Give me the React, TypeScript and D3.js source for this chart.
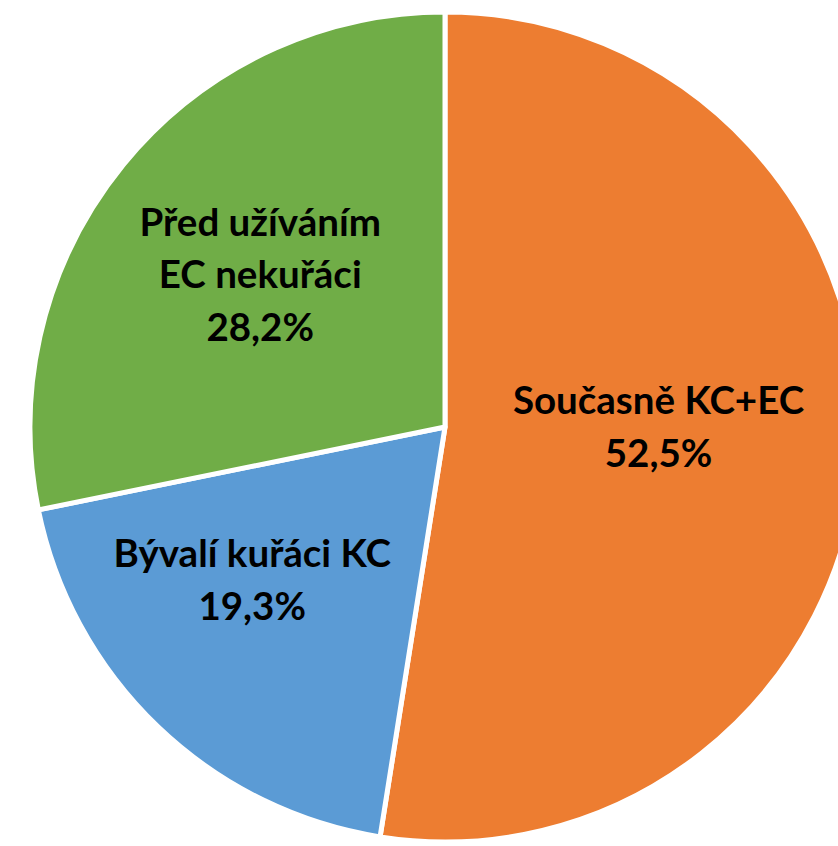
import React from "react";
import * as d3 from "d3";

const categories = ["Současně KC+EC", "Bývalí kuřáci KC", "Před užíváním EC nekuřáci"];
const values = [52.5, 19.3, 28.2];
const labelLines = [
  ["Současně KC+EC", "52,5%"],
  ["Bývalí kuřáci KC", "19,3%"],
  ["Před užíváním", "EC nekuřáci", "28,2%"],
];
const colors = ["#ED7D31", "#5B9BD5", "#70AD47"];

const W = 838;
const H = 846;
const cx = 445;
const cy = 427;
const R = 415;
const labelNudge = [
  [-14, -18],
  [-35, -12],
  [-8, -8],
];

export default function App() {
  const pie = d3
    .pie<number>()
    .sort(null)
    .value((d) => d)
    .startAngle(0)
    .endAngle(2 * Math.PI);
  const arcs = pie(values);
  const arc = d3.arc<d3.PieArcDatum<number>>().innerRadius(0).outerRadius(R);
  const labelArc = d3
    .arc<d3.PieArcDatum<number>>()
    .innerRadius(R * 0.55)
    .outerRadius(R * 0.55);
  const lineH = 52.5;
  return (
    <svg
      width={W}
      height={H}
      style={{ position: "absolute", left: 0, top: 0, background: "#fff" }}
    >
      <g transform={`translate(${cx},${cy})`}>
        {arcs.map((a, i) => (
          <path
            key={categories[i]}
            d={arc(a) || ""}
            fill={colors[i]}
            stroke="#fff"
            strokeWidth={5}
            strokeLinejoin="round"
          />
        ))}
        {arcs.map((a, i) => {
          const [x, y] = labelArc.centroid(a);
          const lines = labelLines[i];
          const x0 = x + labelNudge[i][0];
          const y0 = y + labelNudge[i][1] - ((lines.length - 1) * lineH) / 2;
          return (
            <text
              key={"l" + i}
              x={x0}
              y={y0}
              textAnchor="middle"
              fontFamily="Lato, 'Open Sans', sans-serif"
              fontWeight={700}
              fontSize={38.5}
              fill="#000"
            >
              {lines.map((t, j) => (
                <tspan key={j} x={x0} y={y0 + j * lineH} dy="0.35em">
                  {t}
                </tspan>
              ))}
            </text>
          );
        })}
      </g>
    </svg>
  );
}
